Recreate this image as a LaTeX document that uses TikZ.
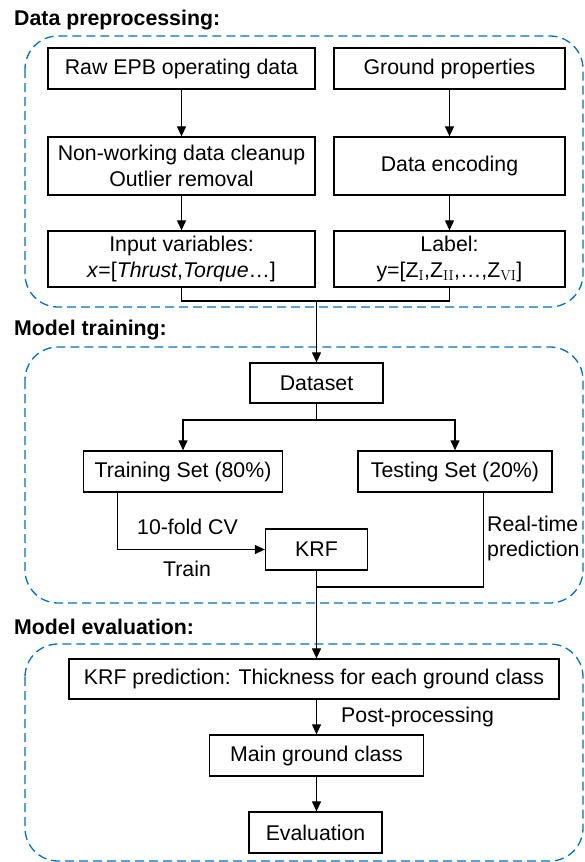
\documentclass[tikz,border=0pt]{standalone}
\usepackage[no-math]{fontspec}
\setmainfont{Liberation Sans}
\setsansfont{Liberation Sans}
\usetikzlibrary{positioning,arrows.meta,calc}
\definecolor{kfBlue}{RGB}{0,112,192}
\definecolor{kfInk}{RGB}{0,0,0}
\tikzset{
    base/.style={font=\fontsize{21.3}{25.5}\selectfont, align=center},
    block/.style={base, rectangle, draw=kfInk, line width=1.3pt, inner sep=0pt,
                  minimum height=41pt},
    stage/.style={draw=kfBlue, line width=1.3pt, dash pattern=on 9pt off 5pt,
                  rounded corners=33pt},
    title/.style={font=\fontsize{21.3}{25.5}\selectfont\bfseries, anchor=west, inner sep=0pt},
    note/.style={base, inner sep=0pt},
    link/.style={line width=1.2pt, color=kfInk},
    flow/.style={link, -{Triangle[length=10pt,width=9pt]}}
}

\begin{document}
\begin{tikzpicture}[x=1pt,y=-1pt]
  \useasboundingbox (0,0) rectangle (584,862);

  % Stage frames
  \draw[stage] (25,36) rectangle (583,307);
  \draw[stage] (25,347) rectangle (583,603);
  \draw[stage] (25,644) rectangle (583,861);
  \node[title] (tprep) at (14,20) {Data preprocessing:};
  \node[title] (ttrain) at (14,330) {Model training:};
  \node[title] (teval) at (14,627) {Model evaluation:};

  % Data preprocessing
  \node[block, minimum width=267pt] (raw) at (181.5,68.5) {Raw EPB operating data};
  \node[block, minimum width=231pt] (ground) at (449.5,68.5) {Ground properties};
  \node[block, minimum width=267pt, minimum height=58pt] (clean) at (181.5,166)
       {Non-working data cleanup\\Outlier removal};
  \node[block, minimum width=231pt, minimum height=58pt] (encode) at (449.5,166) {Data encoding};
  \node[block, minimum width=267pt, minimum height=56pt] (input) at (181.5,259)
       {Input variables:\\\textit{x}=[\textit{Thrust},\textit{Torque}…]};
  \node[block, minimum width=231pt, minimum height=56pt] (label) at (449.5,259)
       {Label:\\y=[Z\ensuremath{_{\mathrm{I}}},Z\ensuremath{_{\mathrm{II}}},…,Z\ensuremath{_{\mathrm{VI}}}]};
  \draw[flow] (raw) -- (clean);
  \draw[flow] (ground) -- (encode);
  \draw[flow] (clean) -- (input);
  \draw[flow] (encode) -- (label);

  % Model training
  \node[block, minimum width=133pt, minimum height=40pt] (dataset) at (316.5,383) {Dataset};
  \node[block, minimum width=199pt] (trainset) at (183,471.5) {Training Set (80\%)};
  \node[block, minimum width=194pt] (testset) at (455,471.5) {Testing Set (20\%)};
  \node[block, minimum width=102pt] (krf) at (316.5,549.5) {KRF};
  \coordinate (merge) at (316.5,301);
  \coordinate (split) at (316.5,420);
  \coordinate (join) at (316.5,587);
  \draw[link] (input.south) |- (merge) -| (label.south);
  \draw[flow] (merge) -- (dataset);
  \draw[link] (dataset) -- (split);
  \draw[flow] (split) -| (trainset.north);
  \draw[flow] (split) -| (testset.north);
  \draw[flow] ([xshift=35pt]trainset.south west) |- (krf.west);
  \draw[link] ([xshift=-69pt]testset.south east) |- (join);
  \node[note] (cv) at (187.5,527) {10-fold CV};
  \node[note] (train) at (187,569) {Train};
  \node[note, anchor=west, align=left] (rtp) at (487,538.5) {Real-time\\prediction};

  % Model evaluation
  \node[block, minimum width=490pt, minimum height=40pt] (krfpred) at (314,679)
       {KRF prediction: Thickness for each ground class};
  \node[block, minimum width=214pt] (mainclass) at (316.5,755.5) {Main ground class};
  \node[block, minimum width=133pt] (evaluation) at (315.5,832.5) {Evaluation};
  \draw[flow] (krf) -- (krf |- krfpred.north);
  \draw[flow] (krfpred.south -| mainclass) -- (mainclass);
  \draw[flow] (mainclass) -- (evaluation.north -| mainclass);
  \node[note, anchor=west] (post) at (341,717) {Post-processing};
\end{tikzpicture}
\end{document}
